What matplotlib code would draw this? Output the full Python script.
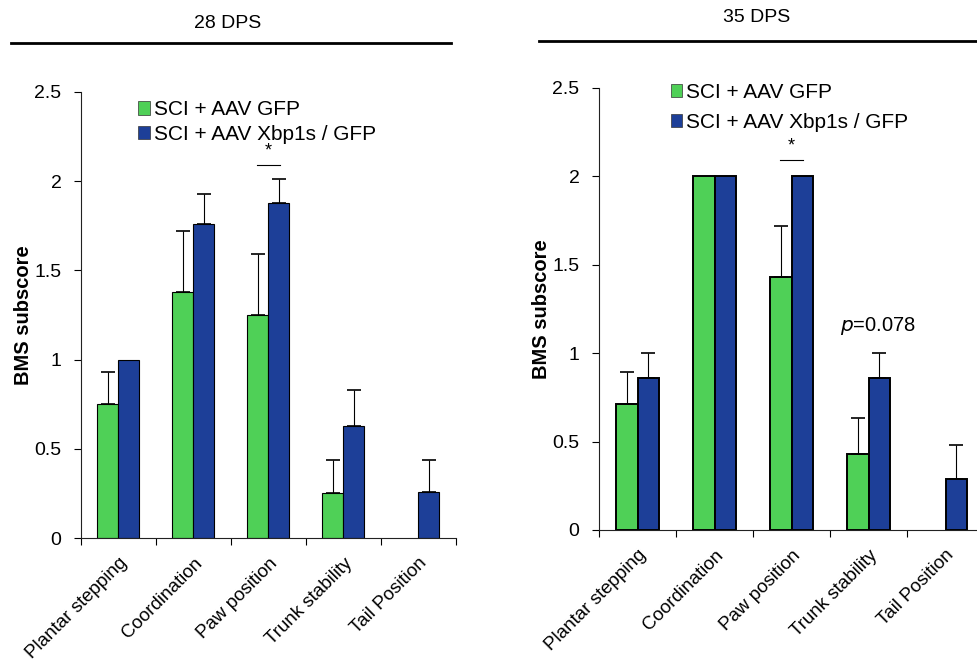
import matplotlib
matplotlib.use("Agg")
import matplotlib.pyplot as plt
import numpy as np
from matplotlib.lines import Line2D
from matplotlib.patches import Patch

plt.rcParams["font.family"] = ["Liberation Sans", "DejaVu Sans"]

# ── data ─────────────────────────────────────────────────────────────────────
categories = ["Plantar stepping", "Coordination", "Paw position",
              "Trunk stability", "Tail Position"]
series_names = ["SCI + AAV GFP", "SCI + AAV Xbp1s / GFP"]

gfp_28 = [0.75, 1.38, 1.25, 0.25, 0.0]
gfp_28_err = [0.18, 0.34, 0.34, 0.19, 0.0]
xbp_28 = [1.00, 1.76, 1.88, 0.63, 0.26]
xbp_28_err = [0.0, 0.17, 0.13, 0.20, 0.18]

gfp_35 = [0.71, 2.00, 1.43, 0.43, 0.0]
gfp_35_err = [0.18, 0.0, 0.29, 0.20, 0.0]
xbp_35 = [0.86, 2.00, 2.00, 0.86, 0.29]
xbp_35_err = [0.14, 0.0, 0.0, 0.14, 0.19]

yticks = [0, 0.5, 1, 1.5, 2, 2.5]
ytick_labels = ["0", "0.5", "1", "1.5", "2", "2.5"]

GREEN = "#4fd057"
BLUE = "#1d3f98"
W = 0.28


def bars_with_err(ax, x, vals, errs, color, edge_lw):
    bars = ax.bar(x, vals, W, color=color, edgecolor="black", lw=edge_lw)
    for b, v in zip(bars, vals):
        if v == 0:
            b.set_linewidth(0)
    errs = np.asarray(errs)
    vals = np.asarray(vals)
    keep = errs > 0
    ax.errorbar(x[keep], vals[keep], yerr=[np.zeros(keep.sum()), errs[keep]],
                fmt="none", ecolor="black", elinewidth=0.8, capsize=5, capthick=1.2)


def draw_panel(ax, gfp, gfp_err, xbp, xbp_err, edge_lw, spacing, anchor):
    x = np.arange(len(categories))
    bars_with_err(ax, x - W / 2, gfp, gfp_err, GREEN, edge_lw)
    bars_with_err(ax, x + W / 2, xbp, xbp_err, BLUE, edge_lw)
    ax.set_xlim(-0.5, len(categories) - 0.5)
    ax.set_ylim(0, 2.5)
    ax.set_yticks(yticks)
    ax.set_yticklabels(ytick_labels, fontsize=14)
    ax.set_xticks(np.arange(len(categories) + 1) - 0.5)
    ax.set_xticklabels([])
    ax.set_xticks(x, minor=True)
    ax.set_xticklabels(categories, minor=True, rotation=45, ha="right",
                       rotation_mode="anchor", fontsize=13.5)
    ax.tick_params(axis="x", which="minor", length=0, pad=12)
    ax.tick_params(axis="x", which="major", length=5, direction="out")
    ax.tick_params(axis="y", length=5, direction="out", pad=9)
    for s in ("top", "right"):
        ax.spines[s].set_visible(False)
    for s in ("left", "bottom"):
        ax.spines[s].set_linewidth(0.8)
        ax.spines[s].set_color("#222222")
    ax.set_ylabel("BMS subscore", fontsize=14.5, fontweight="bold", labelpad=1)

    handles = [Patch(facecolor=GREEN, edgecolor="#333333", lw=0.5),
               Patch(facecolor=BLUE, edgecolor="#333333", lw=0.5)]
    ax.legend(handles, series_names, loc="upper left", bbox_to_anchor=anchor,
              frameon=False, fontsize=15, handlelength=0.55, handleheight=0.6,
              handletextpad=0.2, labelspacing=spacing, borderaxespad=0)

    # significance bar over Paw position
    ax.plot([2 - 0.15, 2 + 0.15], [2.09, 2.09], color="black", lw=0.8)
    ax.text(2, 2.12, "*", ha="center", va="bottom", fontsize=13)


fig = plt.figure(figsize=(9.77, 6.67), dpi=100)
ax1 = fig.add_axes([0.0829, 0.1934, 0.3838, 0.6687])
ax2 = fig.add_axes([0.6131, 0.2054, 0.3941, 0.6634])

draw_panel(ax1, gfp_28, gfp_28_err, xbp_28, xbp_28_err, 0.8, 0.25, (0.13, 1.0))
draw_panel(ax2, gfp_35, gfp_35_err, xbp_35, xbp_35_err, 1.4, 0.55, (0.165, 1.03))

ax2.text(3.13, 1.15, r"$p$=0.078", ha="center", va="center", fontsize=14.5)

# panel headers with rules
fig.text(228 / 977, 1 - 23 / 667, "28 DPS", ha="center", va="center", fontsize=14)
fig.text(757 / 977, 1 - 18 / 667, "35 DPS", ha="center", va="center", fontsize=14)
fig.add_artist(Line2D([11 / 977, 451 / 977], [1 - 43 / 667] * 2, color="black", lw=2))
fig.add_artist(Line2D([539 / 977, 1.0], [1 - 41 / 667] * 2, color="black", lw=2))

fig.savefig("out.png", dpi=100)
